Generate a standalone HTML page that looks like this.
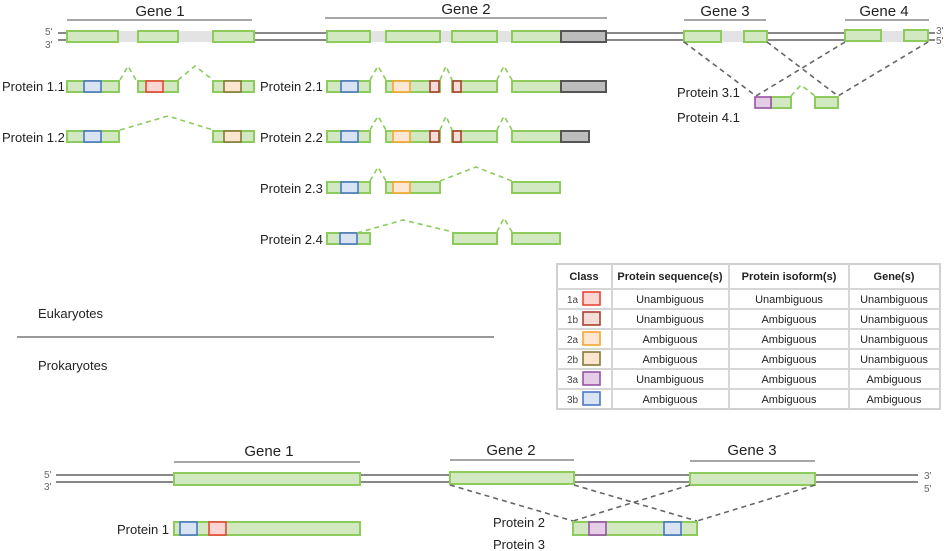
<!DOCTYPE html>
<html><head><meta charset="utf-8"><style>
html,body{margin:0;padding:0;background:#fff;}
svg{display:block;font-family:"Liberation Sans",sans-serif;}
.g{fill:#d1e8c1;stroke:#8ccb5c;stroke-width:2;}
.i{fill:#e3e3e3;}
.dk{fill:#bdbdbd;stroke:#555;stroke-width:2;}
.bl{fill:#d8e3f3;stroke:#4a78c4;stroke-width:1.6;}
.rd{fill:#fad5d2;stroke:#e84535;stroke-width:1.6;}
.dr{fill:#f7ddd8;stroke:#a8412f;stroke-width:1.6;}
.or{fill:#fde6d2;stroke:#f7a530;stroke-width:1.6;}
.ol{fill:#fbe5cf;stroke:#857a38;stroke-width:1.6;}
.pu{fill:#e5cde6;stroke:#9653a6;stroke-width:1.6;}
.gd{fill:none;stroke:#8ccb5c;stroke-width:1.6;stroke-dasharray:5 4;}
.gs{fill:none;stroke:#8ccb5c;stroke-width:1.6;}
.kd{fill:none;stroke:#666;stroke-width:1.6;stroke-dasharray:5 4;}
.ln{stroke:#888;stroke-width:1.4;}
.st{stroke:#888;stroke-width:2;}
text{fill:#222;}
.t{font-size:15px;}
.p{font-size:13px;}
.s{font-size:10px;fill:#666;}
.th{font-size:11px;font-weight:bold;}
.td{font-size:11px;}
</style></head><body>
<svg width="946" height="551" viewBox="0 0 946 551" xmlns="http://www.w3.org/2000/svg">
<!-- top gene labels -->
<text class="t" x="160" y="16" text-anchor="middle">Gene 1</text>
<line class="ln" x1="67" y1="20" x2="252" y2="20"/>
<text class="t" x="466" y="14" text-anchor="middle">Gene 2</text>
<line class="ln" x1="325" y1="18" x2="607" y2="18"/>
<text class="t" x="725" y="16" text-anchor="middle">Gene 3</text>
<line class="ln" x1="684" y1="20" x2="766" y2="20"/>
<text class="t" x="884" y="16" text-anchor="middle">Gene 4</text>
<line class="ln" x1="845" y1="20" x2="929" y2="20"/>
<!-- strands -->
<line class="st" x1="58" y1="33" x2="935" y2="33"/>
<line class="st" x1="58" y1="40" x2="935" y2="40"/>
<text class="s" x="45" y="35">5'</text><text class="s" x="45" y="48">3'</text>
<text class="s" x="936" y="34">3'</text><text class="s" x="936" y="44">5'</text>
<rect class="i" x="118" y="31" width="20" height="11"/><rect class="i" x="178" y="31" width="35" height="11"/>
<rect class="g" x="67" y="31" width="51" height="11"/><rect class="g" x="138" y="31" width="40" height="11"/><rect class="g" x="213" y="31" width="41" height="11"/>
<rect class="i" x="370" y="31" width="16" height="11"/><rect class="i" x="440" y="31" width="12" height="11"/><rect class="i" x="497" y="31" width="15" height="11"/>
<rect class="g" x="327" y="31" width="43" height="11"/><rect class="g" x="386" y="31" width="54" height="11"/><rect class="g" x="452" y="31" width="45" height="11"/><rect class="g" x="512" y="31" width="49" height="11"/><rect class="dk" x="561" y="31" width="45" height="11"/>
<rect class="i" x="721" y="31" width="23" height="11"/>
<rect class="g" x="684" y="31" width="37" height="11"/><rect class="g" x="744" y="31" width="23" height="11"/>
<rect class="i" x="881" y="31" width="23" height="11"/>
<rect class="g" x="845" y="30" width="36" height="11"/><rect class="g" x="904" y="30" width="24" height="11"/>

<!-- Protein 1.1 -->
<text class="p" x="2" y="91">Protein  1.1</text>
<rect class="g" x="67" y="81" width="52" height="11"/><rect class="bl" x="84" y="81" width="17" height="11"/>
<rect class="g" x="138" y="81" width="40" height="11"/><rect class="rd" x="146" y="81" width="17" height="11"/>
<rect class="g" x="213" y="81" width="41" height="11"/><rect class="ol" x="224" y="81" width="17" height="11"/>
<polyline class="gd" points="120,80 128,66 136,80"/>
<polyline class="gd" points="178,80 195,66 213,80"/>
<!-- Protein 1.2 -->
<text class="p" x="2" y="142">Protein  1.2</text>
<rect class="g" x="67" y="131" width="52" height="11"/><rect class="bl" x="84" y="131" width="17" height="11"/>
<rect class="g" x="213" y="131" width="41" height="11"/><rect class="ol" x="224" y="131" width="17" height="11"/>
<polyline class="gd" points="120,130 168,116 213,130"/>

<!-- Protein 2.1 -->
<text class="p" x="260" y="91">Protein  2.1</text>
<rect class="g" x="327" y="81" width="43" height="11"/><rect class="bl" x="341" y="81" width="17" height="11"/>
<rect class="g" x="386" y="81" width="54" height="11"/><rect class="or" x="393" y="81" width="17" height="11"/><rect class="dr" x="430" y="81" width="9" height="11"/>
<rect class="g" x="452" y="81" width="45" height="11"/><rect class="dr" x="453" y="81" width="8" height="11"/>
<rect class="g" x="512" y="81" width="49" height="11"/><rect class="dk" x="561" y="81" width="45" height="11"/>
<polyline class="gd" points="370,80 378,66 386,80"/><polyline class="gd" points="440,80 446,66 452,80"/><polyline class="gd" points="497,80 504,66 512,80"/>
<!-- Protein 2.2 -->
<text class="p" x="260" y="142">Protein  2.2</text>
<rect class="g" x="327" y="131" width="43" height="11"/><rect class="bl" x="341" y="131" width="17" height="11"/>
<rect class="g" x="386" y="131" width="54" height="11"/><rect class="or" x="393" y="131" width="17" height="11"/><rect class="dr" x="430" y="131" width="9" height="11"/>
<rect class="g" x="452" y="131" width="45" height="11"/><rect class="dr" x="453" y="131" width="8" height="11"/>
<rect class="g" x="512" y="131" width="49" height="11"/><rect class="dk" x="561" y="131" width="28" height="11"/>
<polyline class="gd" points="370,130 378,116 386,130"/><polyline class="gd" points="440,130 446,116 452,130"/><polyline class="gd" points="497,130 504,116 512,130"/>
<!-- Protein 2.3 -->
<text class="p" x="260" y="193">Protein  2.3</text>
<rect class="g" x="327" y="182" width="43" height="11"/><rect class="bl" x="341" y="182" width="17" height="11"/>
<rect class="g" x="386" y="182" width="54" height="11"/><rect class="or" x="393" y="182" width="17" height="11"/>
<rect class="g" x="512" y="182" width="48" height="11"/>
<polyline class="gd" points="370,181 378,167 386,181"/><polyline class="gd" points="440,181 476,167 512,181"/>
<!-- Protein 2.4 -->
<text class="p" x="260" y="244">Protein  2.4</text>
<rect class="g" x="327" y="233" width="43" height="11"/><rect class="bl" x="340" y="233" width="17" height="11"/>
<rect class="g" x="453" y="233" width="44" height="11"/><rect class="g" x="512" y="233" width="48" height="11"/>
<polyline class="gd" points="357,233 403,220 453,232"/><polyline class="gd" points="497,232 504,218 512,232"/>

<!-- Protein 3.1/4.1 -->
<line class="kd" x1="684" y1="42" x2="756" y2="96"/>
<line class="kd" x1="767" y1="42" x2="838" y2="96"/>
<line class="kd" x1="845" y1="42" x2="756" y2="96"/>
<line class="kd" x1="928" y1="42" x2="838" y2="96"/>
<text class="p" x="677" y="97">Protein  3.1</text>
<text class="p" x="677" y="122">Protein  4.1</text>
<rect class="g" x="771" y="97" width="20" height="11"/><rect class="pu" x="755" y="97" width="16" height="11"/>
<rect class="g" x="815" y="97" width="23" height="11"/>
<polyline class="gd" points="791,96 801,85 815,96"/>

<!-- table -->
<g>
<rect x="557" y="264" width="383" height="145" fill="#fff" stroke="#d0d0d0" stroke-width="2"/>
<g stroke="#d6d6d6" stroke-width="2">
<line x1="612" y1="264" x2="612" y2="409"/><line x1="729" y1="264" x2="729" y2="409"/><line x1="849" y1="264" x2="849" y2="409"/>
<line x1="557" y1="289" x2="940" y2="289"/><line x1="557" y1="309" x2="940" y2="309"/><line x1="557" y1="329" x2="940" y2="329"/><line x1="557" y1="349" x2="940" y2="349"/><line x1="557" y1="369" x2="940" y2="369"/><line x1="557" y1="389" x2="940" y2="389"/>
</g>
<text class="th" x="584" y="280" text-anchor="middle">Class</text>
<text class="th" x="670" y="280" text-anchor="middle">Protein sequence(s)</text>
<text class="th" x="789" y="280" text-anchor="middle">Protein isoform(s)</text>
<text class="th" x="894" y="280" text-anchor="middle">Gene(s)</text>
<g class="td">
<text class="s" x="567" y="303" style="fill:#444">1a</text><rect class="rd" x="583" y="292" width="17" height="13"/>
<text x="670" y="303" text-anchor="middle" class="td">Unambiguous</text><text x="789" y="303" text-anchor="middle" class="td">Unambiguous</text><text x="894" y="303" text-anchor="middle" class="td">Unambiguous</text>
<text class="s" x="567" y="323" style="fill:#444">1b</text><rect class="dr" x="583" y="312" width="17" height="13"/>
<text x="670" y="323" text-anchor="middle" class="td">Unambiguous</text><text x="789" y="323" text-anchor="middle" class="td">Ambiguous</text><text x="894" y="323" text-anchor="middle" class="td">Unambiguous</text>
<text class="s" x="567" y="343" style="fill:#444">2a</text><rect class="or" x="583" y="332" width="17" height="13"/>
<text x="670" y="343" text-anchor="middle" class="td">Ambiguous</text><text x="789" y="343" text-anchor="middle" class="td">Ambiguous</text><text x="894" y="343" text-anchor="middle" class="td">Unambiguous</text>
<text class="s" x="567" y="363" style="fill:#444">2b</text><rect class="ol" x="583" y="352" width="17" height="13"/>
<text x="670" y="363" text-anchor="middle" class="td">Ambiguous</text><text x="789" y="363" text-anchor="middle" class="td">Ambiguous</text><text x="894" y="363" text-anchor="middle" class="td">Unambiguous</text>
<text class="s" x="567" y="383" style="fill:#444">3a</text><rect class="pu" x="583" y="372" width="17" height="13"/>
<text x="670" y="383" text-anchor="middle" class="td">Unambiguous</text><text x="789" y="383" text-anchor="middle" class="td">Ambiguous</text><text x="894" y="383" text-anchor="middle" class="td">Ambiguous</text>
<text class="s" x="567" y="403" style="fill:#444">3b</text><rect class="bl" x="583" y="392" width="17" height="13"/>
<text x="670" y="403" text-anchor="middle" class="td">Ambiguous</text><text x="789" y="403" text-anchor="middle" class="td">Ambiguous</text><text x="894" y="403" text-anchor="middle" class="td">Ambiguous</text>
</g>
</g>

<!-- divider -->
<text class="p" x="38" y="318">Eukaryotes</text>
<line x1="17" y1="337" x2="494" y2="337" stroke="#999" stroke-width="2"/>
<text class="p" x="38" y="370">Prokaryotes</text>

<!-- bottom -->
<text class="t" x="269" y="456" text-anchor="middle">Gene 1</text>
<line class="ln" x1="174" y1="462" x2="360" y2="462"/>
<text class="t" x="511" y="455" text-anchor="middle">Gene 2</text>
<line class="ln" x1="450" y1="460" x2="574" y2="460"/>
<text class="t" x="752" y="455" text-anchor="middle">Gene 3</text>
<line class="ln" x1="690" y1="461" x2="815" y2="461"/>
<line class="st" x1="56" y1="475" x2="918" y2="475"/>
<line class="st" x1="56" y1="482" x2="918" y2="482"/>
<text class="s" x="44" y="478">5'</text><text class="s" x="44" y="490">3'</text>
<text class="s" x="924" y="479">3'</text><text class="s" x="924" y="492">5'</text>
<rect class="g" x="174" y="473" width="186" height="12"/>
<rect class="g" x="450" y="472" width="124" height="12"/>
<rect class="g" x="690" y="473" width="125" height="12"/>
<line class="kd" x1="450" y1="485" x2="573" y2="521"/>
<line class="kd" x1="574" y1="485" x2="697" y2="521"/>
<line class="kd" x1="690" y1="485" x2="573" y2="521"/>
<line class="kd" x1="815" y1="485" x2="697" y2="521"/>
<text class="p" x="117" y="534">Protein  1</text>
<rect class="g" x="174" y="522" width="186" height="13"/><rect class="bl" x="180" y="522" width="17" height="13"/><rect class="rd" x="209" y="522" width="17" height="13"/>
<text class="p" x="493" y="527">Protein  2</text>
<text class="p" x="493" y="549">Protein  3</text>
<rect class="g" x="573" y="522" width="124" height="13"/><rect class="pu" x="589" y="522" width="17" height="13"/><rect class="bl" x="664" y="522" width="17" height="13"/>
</svg>
</body></html>
